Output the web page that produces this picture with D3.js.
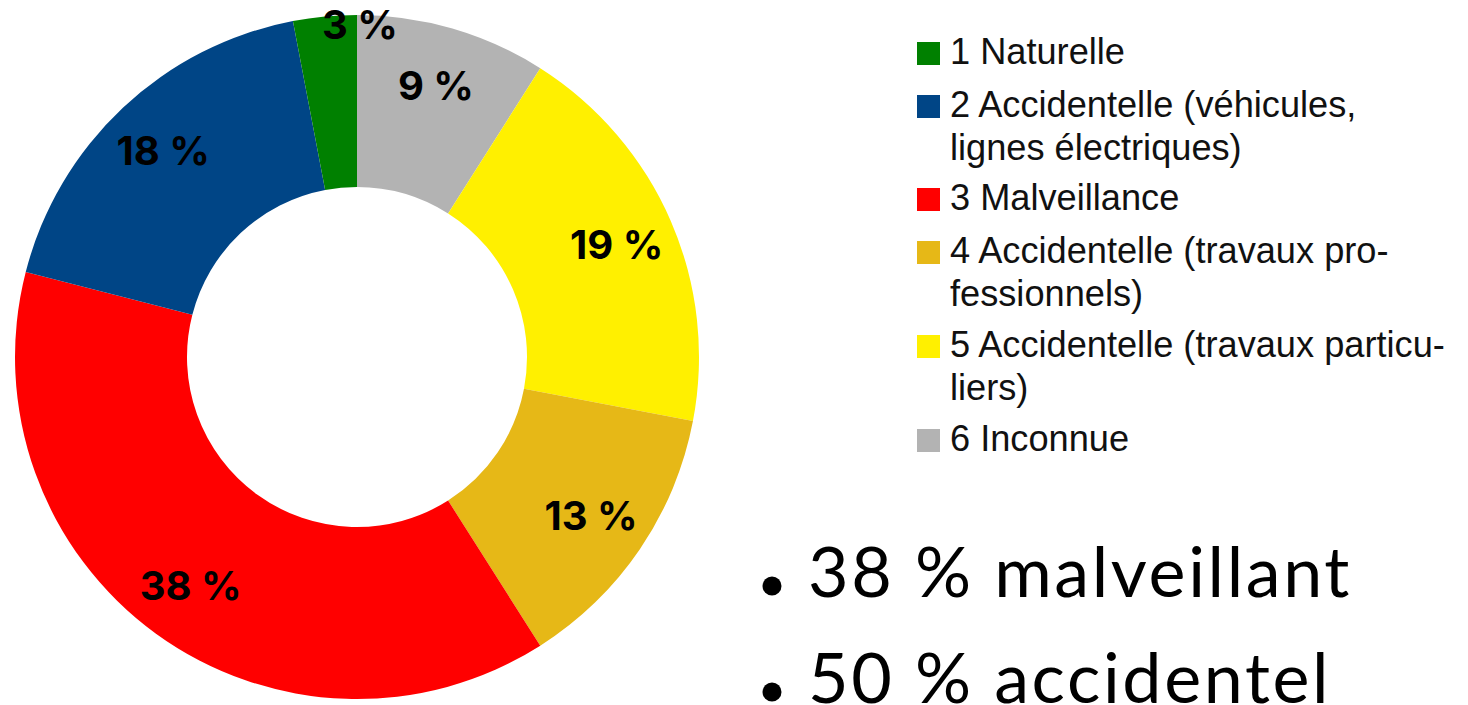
<!DOCTYPE html>
<html><head><meta charset="utf-8">
<script src="https://cdn.jsdelivr.net/npm/d3@7"></script>
<style>body{margin:0;background:#fff;overflow:hidden}</style>
</head><body>
<svg id="c" width="1468" height="705"></svg>
<script>
// Data
const categories = ["1 Naturelle","2 Accidentelle (véhicules, lignes électriques)","3 Malveillance","4 Accidentelle (travaux professionnels)","5 Accidentelle (travaux particuliers)","6 Inconnue"];
const legendLines = [["1 Naturelle"],["2 Accidentelle (véhicules,","lignes électriques)"],["3 Malveillance"],["4 Accidentelle (travaux pro-","fessionnels)"],["5 Accidentelle (travaux particu-","liers)"],["6 Inconnue"]];
const values = [3, 18, 38, 13, 19, 9];
const colors = ["#008000","#004586","#ff0000","#e6b817","#fff000","#b3b3b3"];
const bullets = ["38 % malveillant","50 % accidentel"];

const svg = d3.select("#c");
const cx = 357, cy = 357, R = 342, r = 170;

// pie: clockwise from top in order 6,5,4,3,2,1
const order = d3.range(values.length).reverse();
const pie = d3.pie().sort(null).value(i => values[i]);
const arcs = pie(order);
const arc = d3.arc().innerRadius(r).outerRadius(R);
const g = svg.append("g").attr("transform", `translate(${cx},${cy})`);
g.selectAll("path").data(arcs).join("path")
  .attr("d", arc).attr("fill", d => colors[d.data]);

const labelArc = d3.arc().innerRadius(283).outerRadius(283);
g.selectAll("text").data(arcs).join("text")
  .attr("transform", d => {
    if (values[d.data] < 5) {
      const a = d.endAngle, rr = R - 10;
      return `translate(${rr*Math.sin(a)+3},${-rr*Math.cos(a)})`;
    }
    const [x,y] = labelArc.centroid(d);
    return `translate(${x},${y})`;
  })
  .attr("text-anchor","middle").attr("dy","0.36em")
  .attr("font-family","Inter").attr("font-weight",700).attr("font-size",40)
  .attr("fill","#000")
  .text(d => values[d.data] + " %");

// Legend
const lg = svg.append("g").attr("transform","translate(917,0)");
const legendY = [64, 117, 210, 263, 357, 451];
const lineH = 43;
legendLines.forEach((lines, i) => {
  const y0 = legendY[i];
  lg.append("rect").attr("x",0).attr("y",y0-22).attr("width",23).attr("height",23).attr("fill",colors[i]);
  lines.forEach((t, j) => {
    lg.append("text").attr("x",33).attr("y",y0 + j*lineH)
      .attr("font-family","Liberation Sans, Arial, sans-serif").attr("font-size",36.2).attr("fill","#111")
      .text(t);
  });
});

// Bullets
const bg = svg.append("g");
const bulletY = [597, 703];
bullets.forEach((t, i) => {
  bg.append("circle").attr("cx",772).attr("cy",bulletY[i]-11).attr("r",9.5).attr("fill","#000");
  bg.append("text").attr("x",808).attr("y",bulletY[i])
    .attr("font-family","Lato").attr("font-size",70).attr("letter-spacing",2.6).attr("fill","#000")
    .text(t);
});
</script>
</body></html>
